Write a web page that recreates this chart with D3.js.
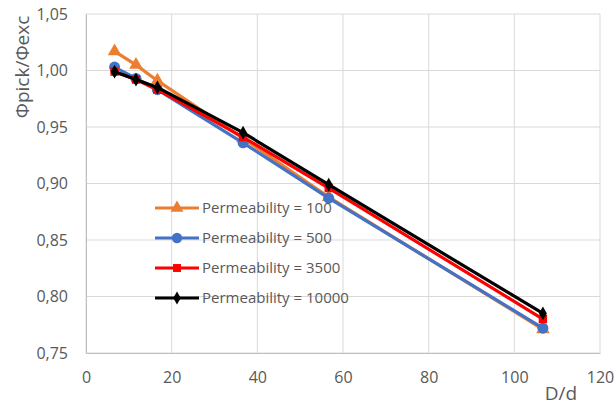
<!DOCTYPE html>
<html><head><meta charset="utf-8">
<script src="https://cdn.jsdelivr.net/npm/d3@7"></script>
<style>body{margin:0;background:#fff;} text{font-family:"Open Sans","Noto Sans",sans-serif;}</style>
</head><body>
<svg id="c" width="615" height="409"></svg>
<script>
const xValues = [6.67, 11.67, 16.67, 36.67, 56.67, 106.67];
const seriesNames = ["Permeability = 100", "Permeability = 500", "Permeability = 3500", "Permeability = 10000"];
const perm100 = [1.017, 1.005, 0.991, 0.940, 0.888, 0.771];
const perm500 = [1.003, 0.993, 0.983, 0.936, 0.887, 0.772];
const perm3500 = [0.999, 0.992, 0.983, 0.941, 0.896, 0.780];
const perm10000 = [0.999, 0.992, 0.985, 0.945, 0.899, 0.785];
const xTicks = [0, 20, 40, 60, 80, 100, 120];
const yTicks = [0.75, 0.80, 0.85, 0.90, 0.95, 1.00, 1.05];

const svg = d3.select("#c");
const x = d3.scaleLinear().domain([0, 120]).range([86, 600]);
const y = d3.scaleLinear().domain([0.75, 1.05]).range([353, 14]);
const fmt = v => v.toFixed(2).replace(".", ",");

// gridlines
svg.append("g").selectAll("line").data(yTicks).join("line")
  .attr("x1", x(0)).attr("x2", x(120)).attr("y1", d => y(d)).attr("y2", d => y(d))
  .attr("stroke", "#d9d9d9").attr("stroke-width", 1);
svg.append("g").selectAll("line").data(xTicks).join("line")
  .attr("y1", y(0.75)).attr("y2", y(1.05)).attr("x1", d => x(d)).attr("x2", d => x(d))
  .attr("stroke", "#d9d9d9").attr("stroke-width", 1);

// axes
const xAxis = svg.append("g").attr("transform", `translate(0,${y(0.75)})`)
  .call(d3.axisBottom(x).tickValues(xTicks).tickSize(0).tickPadding(19).tickFormat(d3.format("d")));
const yAxis = svg.append("g").attr("transform", `translate(${x(0)},0)`)
  .call(d3.axisLeft(y).tickValues(yTicks).tickSize(0).tickPadding(18).tickFormat(fmt));
[xAxis, yAxis].forEach(a => {
  a.select(".domain").attr("stroke", "#bfbfbf");
  a.selectAll("text").attr("fill", "#595959").style("font-size", "16px");
});

svg.append("text").attr("x", 561).attr("y", 400).attr("text-anchor", "middle")
  .attr("fill", "#595959").style("font-size", "19px").text("D/d");
svg.append("text").attr("transform", "translate(29,67) rotate(-90)").attr("text-anchor", "middle")
  .attr("fill", "#595959").style("font-size", "19px").text("Φpick/Φexc");

const series = [
  {name: seriesNames[0], vals: perm100, color: "#ed7d31", sym: d3.symbolTriangle, size: 80},
  {name: seriesNames[1], vals: perm500, color: "#4472c4", sym: d3.symbolCircle, size: 95},
  {name: seriesNames[2], vals: perm3500, color: "#ff0000", sym: d3.symbolSquare, size: 70},
  {name: seriesNames[3], vals: perm10000, color: "#000000", sym: d3.symbolDiamond, size: 55}
];
const line = d3.line().x(d => x(d[0])).y(d => y(d[1]));
series.forEach(s => {
  const pts = xValues.map((xv, i) => [xv, s.vals[i]]);
  svg.append("path").datum(pts).attr("d", line).attr("fill", "none")
    .attr("stroke", s.color).attr("stroke-width", 3.2).attr("stroke-linejoin", "round");
  svg.append("g").selectAll("path").data(pts).join("path")
    .attr("transform", d => `translate(${x(d[0])},${y(d[1])})`)
    .attr("d", d3.symbol().type(s.sym).size(s.size)).attr("fill", s.color);
});

// legend
const lg = svg.append("g");
series.forEach((s, i) => {
  const yy = 208 + i * 30;
  lg.append("line").attr("x1", 155).attr("x2", 199).attr("y1", yy).attr("y2", yy)
    .attr("stroke", s.color).attr("stroke-width", 3.2);
  lg.append("path").attr("transform", `translate(177,${yy})`)
    .attr("d", d3.symbol().type(s.sym).size(s.size * 0.9)).attr("fill", s.color);
  lg.append("text").attr("x", 202).attr("y", yy + 5).attr("fill", "#595959")
    .style("font-size", "15px").text(s.name);
});
</script>
</body></html>
